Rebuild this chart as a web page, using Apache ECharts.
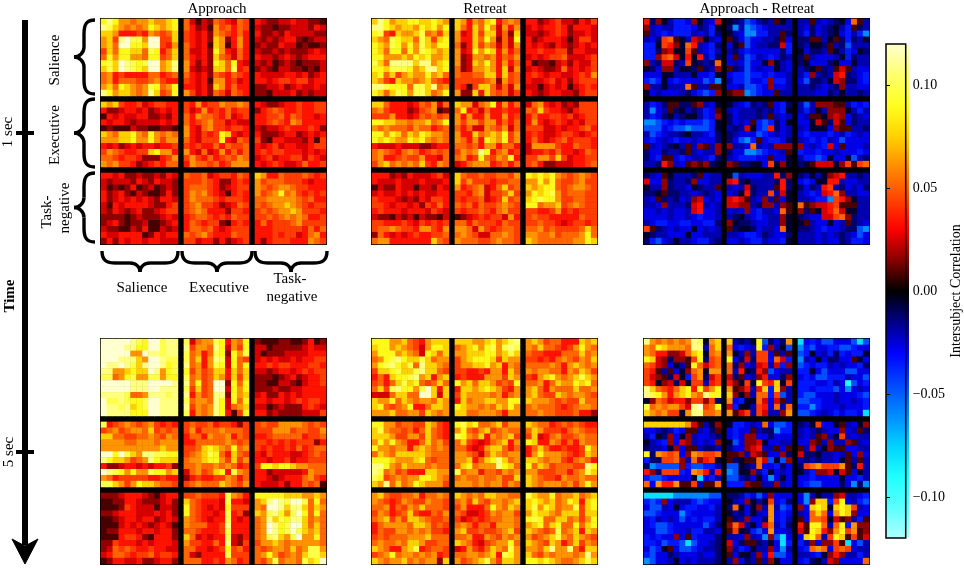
<!DOCTYPE html>
<html>
<head>
<meta charset="utf-8">
<script src="https://cdn.jsdelivr.net/npm/echarts@6/dist/echarts.min.js"></script>
<style>html,body{margin:0;background:#fff}#chart{width:964px;height:568px}</style>
</head>
<body>
<div id="chart"></div>
<script>
// cell values, one letter per cell, the letter is the shade:
// a..l warm, A..L cold (see warmLevels / coldLevels), dots split the three networks
var approach1s = [
"ikiggfgghgghi.fcacbfedcfe.dcbbccdccbba",
"kjhgfgfgihghi.fdbcagefdfe.cbbabbcccbdc",
"hhgdddedgfefh.edcdbgfedfd.dbbcbdccccbb",
"ghekljjglleeh.edcdbhgbdgd.cbcbcddbabcc",
"ghflliihlledg.fdcdahgadgd.bcbbdccabaab",
"ehfiihhfjidfh.fccdbigdcfd.cbbcbcbbbcdc",
"figiiggfiiefh.fdcdbhfecfd.dccbcdcbcddd",
"ijhlkjijllghk.gdbdbihfidc.cbcabcbabbbc",
"hjhlkjihllghk.gcbcbhhfjde.bcbaccbbabac",
"fgdeddddffdef.fdcdbfedfed.dccccddcdbcd",
"fgdfffeefgedd.edcdaggdecd.ddcdeedeecdd",
"ghfihgfgjifgi.ddcdbhgdfdd.bbccdbcdccdc",
"kighhgfgkhefi.gecdbfecfed.bbacccdbcbcc",
"hgheddecdeedd.edgdeegffgf.dcbbcddeddee",
"dbbcddcdbcdcd.ecdgdedfdee.bdefeddeddee",
"adcdccddbbcbd.fdgffedfcde.ddeefdfeddcd",
"dcddcbccccdcd.fdefgeecdcc.ddefedgfdddd",
"abaaacbbaabba.gdcfgeedeed.cbccdedddedb",
"hgfhhigfigfgf.gdcedeihdcd.dbbbcddbcdcd",
"ggghhiggigegg.fdceeeidcfe.ebaddcccbdae",
"dcdbcdcddcdde.ededdfdfeef.dcdecddccdee",
"egfeddeehiggd.gdcfcdgdfdf.dedeedddcdcd",
"ffedeedbbbdeg.egedfdefegf.cdecddeecedc",
"gfgeedbcdedff.dgffefdeggg.dcdedccdfdde",
"ddcdbbcbbcbdc.feefcdeedfe.hgddfeeefede",
"cbcccbdcbdccb.eeefedbbded.gefffeeedcdd",
"cababdabcabcb.efffedbcdee.gfefggfeeddd",
"dbcdbacbaabdb.egfgedcaded.gefgifgedede",
"dbcdcdcdcbddc.egfffedeeed.ffgggggfefdd",
"cadcddddcbbde.efgeedbcdfe.fefgghgfedee",
"cbdcbcdbbcdee.efgfdddbeed.efefgghgeeed",
"bbbbabcbbbcdc.deffededfee.eefefgfgfdde",
"bcdbabbcaabcd.dfedeebaded.dfdeeefgeeee",
"cbbaacbdaacbc.dffefdcdeee.dddeeeeedfdf",
"dccddddabdcdd.fefgedddfee.dddedeecdfgd",
"bdbdcddcddccc.eecddbdbcde.dbdeeedddgfe"];

var retreat1s = [
"hkighhiihhihg.hgdgfhidfgf.ddbcdeccbdce",
"kkihghhgihigi.hfdhfigcgdg.cdcddedbdddc",
"ijedhgghjfgeh.gcdhehhcfbh.ccbcdedbccdc",
"hgfjihhfjhehi.gddhfigbfci.dbcdddcaceec",
"ihgjigigjhgii.fbdhegfcfcg.dcdcbdcbcdcd",
"ihfiifigjihgh.gcdigihdgdf.ddeddeebddcc",
"iiggghgihiggh.gbcggfgdfeg.cdcdeefcccde",
"jhfkkkkhkkghi.gbchgigdgdf.dabbacdbdcce",
"iihjjjighkkhi.fbcgghgdhcg.cdcbbcfcdcde",
"hifheghggighf.feeffhhdhef.dedcddccdedg",
"hgedhggfghfed.eeeeefgbgef.dccdecdbdeee",
"kkjiiifjjhkfg.edaehhfcfcg.ccacdcdacded",
"ihfhjigjjhfgi.gbbhdhfefce.dcbcddccbdee",
"hhfdddcdfegcf.hggcfgidgdf.cfgdcdbcbeee",
"fgedddbcefgab.fidecfddedd.feheddcbdeee",
"eeegddcdfefef.gdgddgddgde.dfddeedecdee",
"iihhggfgghfgi.geggeggdfdf.dgdcdedcdcee",
"gfgfffegffdef.fdfccgfegcf.eeeccdcddefd",
"iigihfhgihggf.gddhfghgieg.dedccdeedcde",
"ihihggihigfgf.gfdgdihgieg.dfdcdefdeeed",
"dcccdcccbbcdd.ffefdggdffd.cggggeddfeed",
"fgfedfgfdefef.egfgkidfgde.cddedfddcdfe",
"fgddefeegddcf.fgdeifegfid.eeggehecddee",
"eghfgfgfhedgf.cdfgggdefdf.efdbbcccddef",
"dddbcbdcccdec.hfeefeeffeg.ihihigfefgfe",
"dcccdcccdcccd.hegeeedeeff.ggigifeefgee",
"acbbdccaccbdc.gdefgcdfhef.hghiifefggfe",
"cdccdcdcdccdd.eedfgceefhe.gihijgefffee",
"edddcbcbdceed.edeefcdehef.hijiigeeffee",
"eedcddcdbedfd.fefdfeefgfe.iifgghefgfee",
"dedddcdddcedc.edeefedfgee.eeddegdedeee",
"cbbacbcacbbac.abcdedeecgd.efeedddddfee",
"eedddedcedede.ffdfeeedfee.eefeedcdeede",
"effgfeedggedg.ggfcgedeffe.ffgefeeeefhf",
"bfdcdcdeddeef.fgfeccffgfe.ggffgefffgif",
"fggdddddddhfe.gfffeefgffe.hgffffffggih"];

var diff1s = [
"dBbACEEDbACDc.ABCFECBCaAC.CCaCDCBADfaC",
"bCDCCEEEDBCEA.BGCGFEDCCCC.CDBDCBACEaBC",
"aCDEDEEECDCEB.ACDGGEECCaB.CEBDCBADECEG",
"CDBefaACcbACD.aBDFDDCCBaD.BBaaCAaBEBCA",
"EEAedbAfdCDEB.DAaFDCCBBcE.BCAABaCBFCCC",
"EEBbcAAeaCDEC.CBDEDDDDDBE.ADBBCaACEDAB",
"EEbefcAdAdCEB.DaCFECDEDBC.BaCDDDCAEBCC",
"bCBccBCeABCBf.DCDFDDAbACD.BADDDBADDACC",
"ABDbbCAABaBCb.aBCFDCDDACD.CBAaBCacaCDD",
"DDDAACCCADDEA.DEEFEEDEDDC.CEbCBCcdBCDE",
"EFEADEDDDDFEG.CEEFDDEbEEC.DFBBCAcbBBDE",
"bCCACCCfaCCaa.DDCFFEDbDDC.CCBCDCBbCCDD",
"ADCDDDCBDEFEb.abbGFEDDaCC.CCCDDBCACCBC",
"CEDBaaBBabCDA.ACDEBCBaDEB.CFCbbbaaCEDE",
"CGDCaBACBCEDa.CDCCCBCBDEA.CECACbbbACEC",
"CEDBACBAACEDb.BDCCCBCaCDC.DCaaAbcbDBCD",
"GGFEDEDEEEFEA.BDCDaEFEBDA.DDAcaBcaDBCC",
"FFFDEFFGFFFEA.CBCcAEFdBDC.CDAAADbaaCCB",
"CFEDCCBACCDEB.BCDDDFEDCDC.DEDDDEDCEDCD",
"DEDCDEDDCDDDB.BDFGEaDEEDB.CDEDECDFDDDD",
"aCDCBACaCbaCb.bCCDfCDCbbb.bDCDEcDaDDDC",
"BDDBCCBaCDCCb.BDDGGFEDDCa.EDDEDDCDDDED",
"BDEaaDEDCCDEB.CDEEEDDaDDA.CEEFEADDAFCB",
"CCBdbCDababBA.baBBAADeAbA.BAacccAbeaef",
"BCDaACCCBaDCC.AFCDDDCCdBb.BCACAbcdCCBC",
"cDDbBCCBbDDCC.cdBACCCCBdB.DEDAAddCDDCC",
"ACCbBCCDABCCa.CDCcBCCCadB.BDBCdeCBDCDB",
"BBAaBBCCDCBCD.DCAdBCCeCcA.CDEDcdfbCCDD",
"CDaBCBDCbcDCD.cdcaCDbCaDA.CCDEEGedbACC",
"CCDbCCCBcdCDC.ccbbCBbbCba.fabccdeaaaCC",
"DDCDCDDCcdDDC.DCDbDECCDfa.bBaAcdfcAACC",
"DDDDCDDCDEDDC.CBACDEDCCbA.BCDDccefbBCC",
"CDEEDDEEDDEEB.bABBCDDCCbA.AaCDDADCaBCD",
"eaBCDCDDADCDC.aBAABDCCDfA.BBCDEDDCBBFG",
"ABCCDDDADDCCC.CCDEEDBCDDB.CCCDCDCBCDFD",
"BEFDCACCDEECB.DDCDEECDDEA.CCCDCDDBCEED"];

var approach5s = [
"lllllkjilljkk.jcfggjidgfi.baaabbaabdab",
"llllkkiilljkk.keggfkicgei.ccabbbbbcdcc",
"lllllgglkkjkk.jfgdfjibigj.cabbbccccddd",
"lllkkkhgllkjj.jfhdgkjcife.cdcdccdcddee",
"lkklkjhkllkij.kfgdgjicifi.ddedeedddeed",
"kkgghihhlkgij.iegefhhdhfh.ccbcddcdedee",
"jjfgijggjjgii.jfgefhgdheh.bbbabcdbcdde",
"lllllkkkllllk.kfiefllbifi.bbaaccbacdde",
"lllllkkkllkkk.jehefllcigi.bbbcbbccdddd",
"kkkkjffgkkkjk.kdgefkkbigh.cdbbdcdcdddd",
"ljjkjiijllkkk.jfggfkicifi.ddcddcdedeed",
"lkkjkhijllkkk.kegfgkicfgh.ccabcbbbdedc",
"lkkkkiiillkkk.jdgfgkidaei.ddbcbbbbccce",
"jdefgfefgeded.efeefdeedbe.efeeggggfefe",
"efgefggfhefef.egdfffgfffe.eeegggeffeeg",
"hhffeeffgfegf.dffdgffgdfe.ddefffffdeef",
"ggggffgggfggg.ddfffffgfef.eedededeeebd",
"gggggggggghgg.eefhihgfifg.ededdedfdeff",
"lliljhgkkjjii.efghjifdhfe.dcedddccdefe",
"kihhgefgkihhh.fgghiigeheg.ddcddecddeee",
"dbbcddcdcddeb.ffgffgfgfde.eiihiihggfff",
"lkjigiggjiigh.cfgefhidjgf.ddbcccccdgff",
"gfdeeeeeddedd.bdeddeegfdf.ddcbcdddfged",
"jjhgegihhgffe.efgfffhgfeg.dcccdbddfefa",
"bbbcdddcbacdd.eefeeedjgfd.iiiiihhhgghg",
"aabbddcbbbcdb.hfedddcjddc.ghklkjlljfif",
"aaabedcccaccb.ifedcdcieee.gfllkhkkhfhg",
"bbcdddcccdcdb.ifeddcdjdeb.hgjkigjlifif",
"aabcddcddbcdc.gfedcddjdcd.fgkhjikkhfgf",
"aaacdcdcbcdca.gfffddekddd.fglkijllhfhf",
"abbdddcddcddb.ffedddejddd.fglkijljhghf",
"aaadeedbadddb.hfcdcddjcbd.fgjkhgjlggif",
"bbedddcdcdddc.geeddfdkcbe.egghgfgggggf",
"bcfefeddeddcc.ffddcdeiefd.fefggfhfgjjg",
"cdffedeefdeed.fcbddddjeee.fgigefgfhjjh",
"abddccdbbcddb.fffddedgfde.fegjfggfjhil"];

var retreat5s = [
"iiigghfedghhh.hhhgghighjk.ghgeffdddhgh",
"hiighgfecgiih.fghigijgjkj.gfhffedegigf",
"giiighgfcihfh.gghhhiighjh.feedddfffhfg",
"fgijkihhjhfgg.eghiiihehgg.eededfgfegfh",
"gijkihjfkhhgf.egghhighdgf.ffffgfdghgfg",
"ehhijhhjkhhfe.eeddedggdhf.gfggffdgfhge",
"dfdhiijkghdgh.dedddgggehg.edghigfghjhg",
"efdfhjhifefhf.ighfhhgefei.ffgdfhggihif",
"fhejkiigjlhdh.dhhghihgedg.ghfdgfffhffg",
"cccfhhffllhch.ehggggfgdfg.ghfeehgfggfe",
"hggifhgfggfhg.dhfgghhggii.hgggfefeehff",
"hifefgiddfhhg.ihggfgfhgig.fgfffedefggf",
"ggghffggehgfg.hhffgggfdgg.ffgffeeefddb",
"iiggeffeehged.ijhiffghegg.hgffdefefedd",
"hjgffefdfhfed.gifeghefgff.fhgeeedfgfee",
"hhhgeeggehfed.jigfhdgfghe.ehcdfgeefgff",
"gigigfddfhfge.fhedcdfghdg.ihddgfdfdgff",
"iggfggdghgfgf.ffdcdghhfdf.dfhfddeddeig",
"fhgfhhhhhgfff.ggfecfhgfgg.dgigggfedehg",
"iiihggghifeff.gghdfhikhfg.hhgfggedfgfd",
"kkigfhgggfgff.fhifgggkihf.ifhgefffeeki",
"kjfgefdddhhgg.jfggdffegfg.ggeeeffdfgjh",
"jiefgfggiihgf.fgffgffgeeh.hgfeedgffgff",
"hgkfhfgihggge.gggfgfggegf.hgfgggfgegig",
"ghfeeffgdffgf.hgfgfhhggff.jhggifgghfgh",
"gfedegfeegffe.fgehfeggfgh.hihghfgihdhi",
"ffgdfegfhfffe.egdddfigfhg.hjgihfggjehi",
"egfdefheddfeg.feccdegfgge.gihhgfhhhehh",
"fghegehhgfeef.ecdedeffggf.ijiffhhfgegi",
"dfggggfhhgefe.fgfdffdgggf.ghifhiffifhi",
"dfeeggfgfgeed.gheefeefghe.hgfefjfghdhg",
"efefffggghfff.ffgddgfegfg.gefghjgfhgfe",
"fgffgfhhgeeff.hgfdcefggif.hgfehgdfhegf",
"hgfddghjdeffe.cdgedfhgfjg.ggfhkggkfdhh",
"efgifggfgfgde.ffggfghdjig.hfegfgggfgkg",
"hgfgghfgfggbh.gefghjgehhg.iihihgffghjh"];

var diff5s = [
"kgfgfgfgkjAgh.hCBCAiFBDBg.HDEDFFDDDFHF",
"gfihgggfkkCfh.fDEDCiEbCAF.GEFDDEEFFEDD",
"gfddbbcfhiAfg.gACbCeeDaCa.FEADCEBEDEEA",
"ihcbBbbaeiBef.iDBcBeeDfcE.GCDADBBDDaAD",
"fecbDACaifcef.fBbDCcdCcEb.FEDEECDCDDEB",
"edaCaDAbfgAgg.fCdABdbFDCC.EEADFDDDFFDD",
"ecbaBcAEegBce.cBaDCbdDDBb.DEDFFEEECDDF",
"edAbcBcAeeCde.dbAeAiedhAe.EEEDDECDIFDE",
"khfedfhidiegi.gabdCdhEhbC.EEDEEEFDGDCD",
"kjigdghigfkii.hbAbCffEeFC.EFFDDDCDDDEF",
"AbfecddbeebeB.gDEAAfcDcaC.FFEEDDCDDCDE",
"jfgfggecklefi.cEAACedDfCf.EEGEDDDCDDDE",
"hgfgeeAgkkffg.gaceCecCCbg.FFEDCDEDEEDH",
"hhhhhhhgcaCAb.AEEDCDfDFFE.BCAeDDAaCDAb",
"DDCBCEDaaCDBa.DEDDaCBBGEE.CDCBCDDbDCaB",
"CEABbDAbCDDCB.DEDbbDDBDDD.CDCabCAeCDCC",
"ACDEbDcbCDCDb.AFDbbcADDCC.DDbaCbCCbaCD",
"BCCDAbDaaCBBC.BDDbcdCCaDa.aCcCAbaaDDCC",
"iBgfefDbgfeef.aabCcbaDDbB.cBBACCDCaDbD",
"EBBeefbCfbdeA.aBAaafcFAFb.CBCBCCDAaCaC",
"BGFFFFbEFFEEC.FFABCfDDEBD.BefgeeegaBdC",
"dbBeeeEDgfdCd.GFAAbCEADCD.ACEbbcAcaDAC",
"EFFEDDDDAHDEC.FFCBDADGDAD.DDEDDDDADDEC",
"fDgddgaaeCaaf.EEEbaaCCbCD.DEFFDDDBDGBG",
"HHHHHGGGGGGFF.BBCEDFDbDDD.DGCACCbcCCDE",
"EFEbDCCCEFEDD.ACDbACAeDEB.DGbhhEeiDCEF",
"DFFCDADEEDDEC.BfADAbCgCFE.bDhihAhiheCD",
"FFEDDDGEDDDDC.ACBDACDgDED.CDfhfDgihbDD",
"DECDCDFDEDEEC.aBCbDDBgDEC.aDffeAcabCEa",
"DEFFEDDDDDFDB.bfcCADcfCEB.daiifCfiEgbb",
"DDFFEDDCEECCD.aeABEFDgDDC.caihdbgiegab",
"EDEDDbDaEDDDB.CCDbCDGbFHD.DhifCeihaeac",
"EEDFEEFHFDDCB.cDBaaBCADHE.ECbDbbeaHDFC",
"DFEAaDFFEDCCB.bCEDACCbDGC.DEfgfDefeDCC",
"EFDDBCDDDCDDB.aDAACbDdFFD.CCDEAbdbCCEC",
"GFDDCADCDCCCB.CbDBCaCbADD.DEBACcbDDDDf"];

var warmLevels = [0.008, 0.016, 0.025, 0.034, 0.043, 0.052, 0.062, 0.075, 0.088, 0.098, 0.108, 0.12];
var coldLevels = [-0.005, -0.012, -0.02, -0.027, -0.035, -0.047, -0.06, -0.08, -0.09, -0.1, -0.11, -0.12];

var panels = [approach1s, retreat1s, diff1s, approach5s, retreat5s, diff5s];
var panelLeft = [101, 372, 644];
var panelTop = [19, 339];
var panelSize = 225;
var blockSizes = [13, 11, 12];
var barTicks = [-0.1, -0.05, 0, 0.05, 0.1];
// cold-hot colormap, evenly spaced from -0.12 to 0.12
var coldHot = [
  '#b0ffff', '#5affff', '#1effff', '#00d1ff', '#008bff', '#0046ff', '#0000ff', '#000087',
  '#000000',
  '#870000', '#ff0000', '#ff4600', '#ff8b00', '#ffd100', '#ffff1e', '#ffff6e', '#ffffd0'
];
var serif = '"Liberation Serif", "Times New Roman", serif';

function cellValue(ch) {
  var code = ch.charCodeAt(0);
  return code >= 97 ? warmLevels[code - 97] : coldLevels[code - 65];
}

// the dark gaps between the networks are just cells left empty
function gridCells(rows) {
  var out = [];
  rows.forEach(function (row, r) {
    var y = r < 13 ? r : r < 24 ? r + 1 : r + 2;
    row.split('.').forEach(function (block, b) {
      var start = [0, 14, 26][b];
      block.slice(0, blockSizes[b]).split('').forEach(function (ch, c) {
        out.push([start + c, y, cellValue(ch)]);
      });
    });
  });
  return out;
}

var axisCats = [];
for (var i = 0; i < 38; i++) axisCats.push(i);

var grids = [], xAxes = [], yAxes = [], series = [];
panels.forEach(function (rows, n) {
  grids.push({
    left: panelLeft[n % 3], top: panelTop[Math.floor(n / 3)], width: panelSize, height: panelSize,
    show: true, backgroundColor: '#000', borderColor: '#000', borderWidth: 2
  });
  xAxes.push({ type: 'category', gridIndex: n, data: axisCats, show: false });
  yAxes.push({ type: 'category', gridIndex: n, data: axisCats, show: false, inverse: true });
  series.push({
    type: 'heatmap', xAxisIndex: n, yAxisIndex: n, data: gridCells(rows),
    silent: true, progressive: 0, animation: false
  });
});

// colorbar frame and ticks
grids.push({
  left: 886, top: 44, width: 23, height: 494, show: true,
  backgroundColor: 'transparent', borderColor: '#000', borderWidth: 1.5, z: 6
});
xAxes.push({ type: 'value', gridIndex: 6, show: false });
yAxes.push({
  type: 'value', gridIndex: 6, position: 'right', min: -0.12, max: 0.12, z: 6,
  splitLine: { show: false },
  axisLine: { show: false },
  axisTick: { show: true, length: 4, customValues: barTicks, lineStyle: { color: '#000', width: 1 } },
  axisLabel: {
    show: true, customValues: barTicks, margin: 7, color: '#000', fontFamily: serif, fontSize: 14,
    formatter: function (v) { return (v < 0 ? '\u2212' : '') + Math.abs(v).toFixed(2); }
  },
  name: 'Intersubject Correlation', nameLocation: 'middle', nameRotate: 90, nameGap: 37,
  nameTextStyle: { color: '#000', fontFamily: serif, fontSize: 14 }
});

function label(text, x, y, rot, size, bold) {
  return {
    type: 'text', x: x, y: y, rotation: rot ? Math.PI / 2 : 0, silent: true,
    style: {
      text: text, fill: '#000', align: 'center', verticalAlign: 'middle',
      font: (bold ? 'bold ' : '') + (size || 15) + 'px ' + serif
    }
  };
}

var braceStyle = { fill: null, stroke: '#000', lineWidth: 3.4 };

function curve(x1, y1, cx1, cy1, cx2, cy2, x2, y2) {
  return {
    type: 'bezierCurve', silent: true, style: braceStyle,
    shape: { x1: x1, y1: y1, cpx1: cx1, cpy1: cy1, cpx2: cx2, cpy2: cy2, x2: x2, y2: y2 }
  };
}

function straight(x1, y1, x2, y2) {
  return { type: 'line', silent: true, style: braceStyle, shape: { x1: x1, y1: y1, x2: x2, y2: y2 } };
}

// curly brace opening to the right, tip at x
function braceLeft(x, y0, y1) {
  var m = (y0 + y1) / 2, a = x + 10, b = x + 21;
  return [
    curve(b, y0, a + 2, y0, a, y0 + 5, a, y0 + 14),
    straight(a, y0 + 14, a, m - 10),
    curve(a, m - 10, a, m - 4, x + 5, m, x, m),
    curve(x, m, x + 5, m, a, m + 4, a, m + 10),
    straight(a, m + 10, a, y1 - 14),
    curve(a, y1 - 14, a, y1 - 5, a + 2, y1, b, y1)
  ];
}

// curly brace opening upwards, tip at y
function braceUnder(y, x0, x1) {
  var m = (x0 + x1) / 2, a = y - 9, b = y - 21;
  return [
    curve(x0, b, x0, a - 2, x0 + 5, a, x0 + 14, a),
    straight(x0 + 14, a, m - 10, a),
    curve(m - 10, a, m - 4, a, m, y - 5, m, y),
    curve(m, y, m, y - 5, m + 4, a, m + 10, a),
    straight(m + 10, a, x1 - 14, a),
    curve(x1 - 14, a, x1 - 5, a, x1, a - 2, x1, b)
  ];
}

var annotations = [
  label('Approach', 217, 9),
  label('Retreat', 485, 9),
  label('Approach - Retreat', 757, 9),
  { type: 'rect', silent: true, shape: { x: 22, y: 20, width: 6, height: 525 }, style: { fill: '#000' } },
  { type: 'rect', silent: true, shape: { x: 16, y: 131, width: 18, height: 4 }, style: { fill: '#000' } },
  { type: 'rect', silent: true, shape: { x: 16, y: 450, width: 18, height: 4 }, style: { fill: '#000' } },
  {
    type: 'polygon', silent: true, shape: { points: [[12, 539], [25, 546], [38, 539], [25, 564]] },
    style: { fill: '#000', stroke: '#000', lineWidth: 1 }
  },
  label('1 sec', 8, 132, true),
  label('5 sec', 9, 452, true),
  label('Time', 10, 296, true, 15, true),
  label('Salience', 55, 60, true),
  label('Executive', 55, 135, true),
  label('Task-', 47, 212, true),
  label('negative', 65, 208, true),
  label('Salience', 142, 288),
  label('Executive', 219, 288),
  label('Task-', 290, 279),
  label('negative', 292, 297)
].concat(
  braceLeft(74, 20, 94),
  braceLeft(74, 99, 167),
  braceLeft(74, 173, 242),
  braceUnder(272, 102, 178),
  braceUnder(272, 182, 252),
  braceUnder(272, 255, 327)
);

var chart = echarts.init(document.getElementById('chart'), null, { renderer: 'canvas' });
chart.setOption({
  animation: false,
  backgroundColor: '#fff',
  grid: grids,
  xAxis: xAxes,
  yAxis: yAxes,
  visualMap: {
    type: 'continuous', min: -0.12, max: 0.12, seriesIndex: [0, 1, 2, 3, 4, 5],
    left: 886, top: 44, itemWidth: 23, itemHeight: 494, padding: 0,
    calculable: false, realtime: false, hoverLink: false, showLabel: false, text: null,
    inRange: { color: coldHot }
  },
  series: series,
  graphic: annotations
});
</script>
</body>
</html>
